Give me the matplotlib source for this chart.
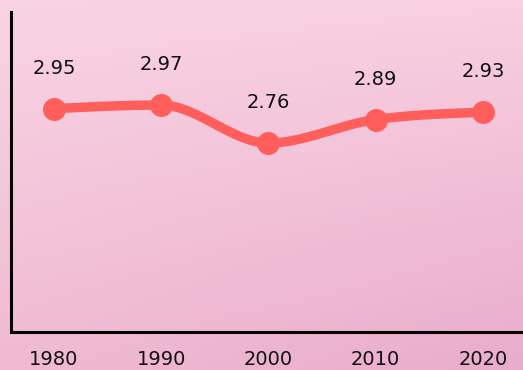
import numpy as np
import matplotlib
matplotlib.use("Agg")
import matplotlib.pyplot as plt

years = [1980, 1990, 2000, 2010, 2020]
values = [2.95, 2.97, 2.76, 2.89, 2.93]
tick_labels = ["1980", "1990", "2000", "2010", "2020"]

LINE_COLOR = "#FF5E5B"


def monotone_curve(x, y, n=60):
    """Monotone cubic (Fritsch-Carlson style) smoothing between the points."""
    x = np.asarray(x, float)
    y = np.asarray(y, float)
    h = np.diff(x)
    d = np.diff(y) / h
    m = np.zeros_like(y)
    for i in range(1, len(y) - 1):
        if d[i - 1] * d[i] <= 0:
            m[i] = 0.0
        else:
            s = (d[i - 1] * h[i] + d[i] * h[i - 1]) / (h[i - 1] + h[i])
            m[i] = np.sign(s) * min(abs(s), 2 * abs(d[i - 1]), 2 * abs(d[i]))
    m[0] = (3 * d[0] - m[1]) / 2
    m[-1] = (3 * d[-1] - m[-2]) / 2
    xs, ys = [], []
    for i in range(len(h)):
        t = np.linspace(0, 1, n)
        h00 = 2 * t**3 - 3 * t**2 + 1
        h10 = t**3 - 2 * t**2 + t
        h01 = -2 * t**3 + 3 * t**2
        h11 = t**3 - t**2
        xs.append(x[i] + t * h[i])
        ys.append(h00 * y[i] + h10 * h[i] * m[i] + h01 * y[i + 1] + h11 * h[i] * m[i + 1])
    return np.concatenate(xs), np.concatenate(ys)


fig = plt.figure(figsize=(5.23, 3.70), dpi=100)

# soft pink gradient backdrop
bg = fig.add_axes([0, 0, 1, 1], zorder=0)
bg.set_axis_off()
tl = np.array([249, 212, 228]) / 255
tr = np.array([248, 208, 225]) / 255
bl = np.array([240, 186, 210]) / 255
br = np.array([233, 172, 204]) / 255
H, W = 370, 523
u = np.linspace(0, 1, W)[None, :, None]
v = np.linspace(0, 1, H)[:, None, None]
img = (1 - v) * ((1 - u) * tl + u * tr) + v * ((1 - u) * bl + u * br)
bg.imshow(img, aspect="auto", extent=[0, 1, 0, 1])

ax = fig.add_axes([11 / 523, 38 / 370, 1.0, 320 / 370], zorder=1)
ax.patch.set_alpha(0)

xs, ys = monotone_curve(years, values)
ax.plot(xs, ys, color=LINE_COLOR, lw=6.8, solid_capstyle="round", zorder=2)
ax.plot(years, values, "o", color=LINE_COLOR, ms=15.5, zorder=3)

for x, y in zip(years, values):
    ax.annotate(f"{y:.2f}", (x, y), xytext=(0, 29), textcoords="offset points",
                ha="center", va="center", fontsize=14, color="#111111",
                family="DejaVu Sans")

ax.set_xlim(1976, 1976 + 523 / 10.725)
ax.set_ylim(1.716, 3.484)
ax.set_xticks(years)
ax.set_xticklabels(tick_labels, fontsize=14, family="DejaVu Sans", color="#111111")
ax.set_yticks([])
ax.tick_params(axis="x", length=0, pad=13)
for s in ("top", "right"):
    ax.spines[s].set_visible(False)
for s in ("left", "bottom"):
    ax.spines[s].set_linewidth(2.2)
    ax.spines[s].set_color("black")

fig.savefig("out.png", dpi=100)
